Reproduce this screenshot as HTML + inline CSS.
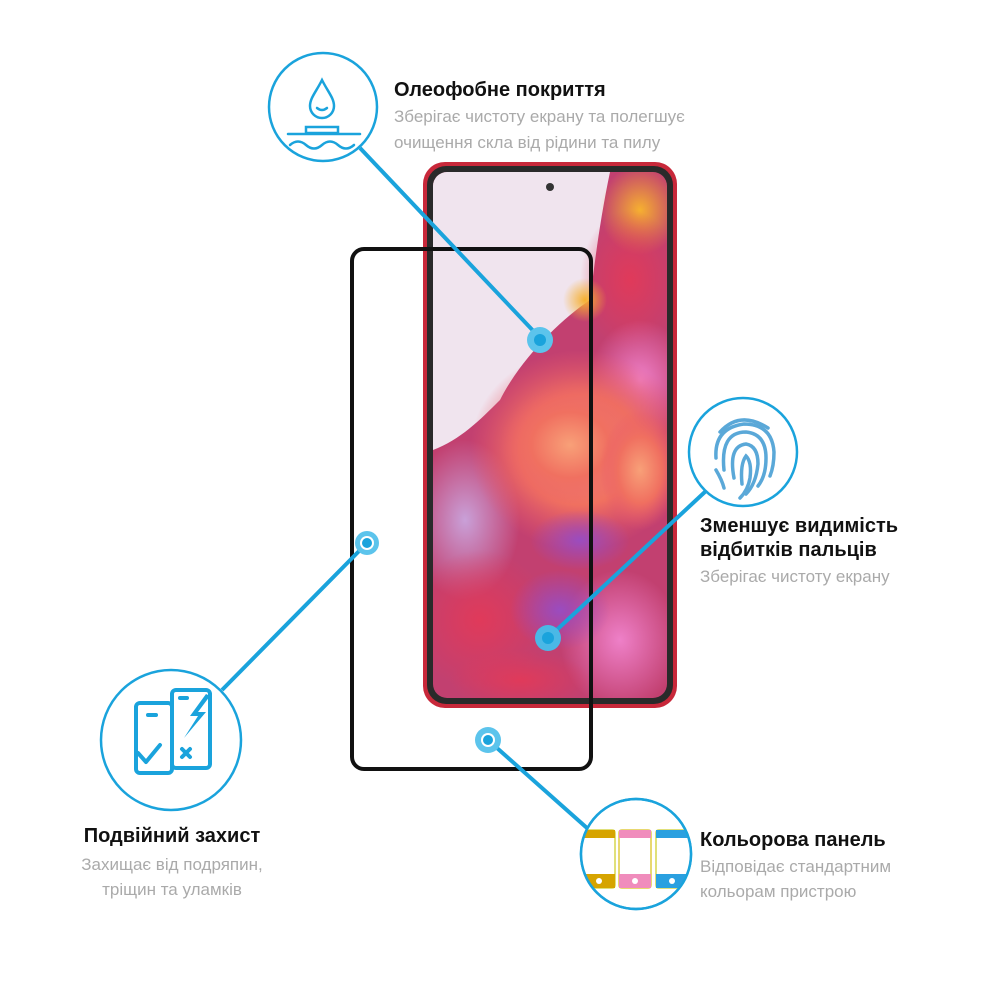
<!DOCTYPE html>
<html><head><meta charset="utf-8"><style>
html,body{margin:0;padding:0;background:#fff;width:1000px;height:1000px;overflow:hidden}
svg{display:block}
.t{font-family:"Liberation Sans",sans-serif;font-weight:bold;font-size:20px;fill:#111}
.s{font-family:"Liberation Sans",sans-serif;font-size:17px;fill:#aaa}
</style></head><body>
<svg width="1000" height="1000" viewBox="0 0 1000 1000" xmlns="http://www.w3.org/2000/svg">
<defs>
<radialGradient id="f1" cx="0.5" cy="0.5" r="0.5"><stop offset="0" stop-color="#f8a078"/><stop offset="0.55" stop-color="#f07060"/><stop offset="1" stop-color="#e85a6a" stop-opacity="0"/></radialGradient>
<radialGradient id="f2" cx="0.5" cy="0.5" r="0.5"><stop offset="0" stop-color="#9a4cc0"/><stop offset="1" stop-color="#9a4cc0" stop-opacity="0"/></radialGradient>
<radialGradient id="f3" cx="0.5" cy="0.5" r="0.5"><stop offset="0" stop-color="#e03a5a"/><stop offset="1" stop-color="#e03a5a" stop-opacity="0"/></radialGradient>
<radialGradient id="f4" cx="0.5" cy="0.5" r="0.5"><stop offset="0" stop-color="#f6b030"/><stop offset="1" stop-color="#f6b030" stop-opacity="0"/></radialGradient>
<radialGradient id="f5" cx="0.5" cy="0.5" r="0.5"><stop offset="0" stop-color="#ee80c8"/><stop offset="1" stop-color="#ee80c8" stop-opacity="0"/></radialGradient>
<radialGradient id="f6" cx="0.5" cy="0.5" r="0.5"><stop offset="0" stop-color="#c9a0d8"/><stop offset="1" stop-color="#c9a0d8" stop-opacity="0"/></radialGradient>
<clipPath id="scr"><rect x="433" y="172" width="234" height="526" rx="14"/></clipPath>
<clipPath id="cc"><circle cx="636" cy="854" r="54"/></clipPath>
</defs>

<!-- phone -->
<rect x="423" y="162" width="254" height="546" rx="22" fill="#c8283a"/>
<rect x="427" y="166" width="246" height="538" rx="19" fill="#2a2a2a"/>
<g clip-path="url(#scr)">
<rect x="433" y="172" width="234" height="526" fill="#c24070"/>
<path d="M433 172 H610 C600 220 595 260 590 300 C560 320 520 360 500 400 C480 420 460 440 433 450 Z" fill="#f0e4ee"/>
<ellipse cx="640" cy="210" rx="40" ry="45" fill="url(#f4)"/>
<ellipse cx="630" cy="280" rx="50" ry="70" fill="url(#f3)"/>
<ellipse cx="585" cy="300" rx="22" ry="22" fill="url(#f4)"/>
<ellipse cx="640" cy="380" rx="50" ry="60" fill="url(#f5)"/>
<ellipse cx="465" cy="520" rx="55" ry="80" fill="url(#f6)"/>
<ellipse cx="580" cy="450" rx="110" ry="100" fill="url(#f1)"/>
<ellipse cx="570" cy="445" rx="70" ry="60" fill="url(#f1)"/>
<ellipse cx="640" cy="470" rx="40" ry="60" fill="url(#f1)"/>
<ellipse cx="580" cy="540" rx="50" ry="30" fill="url(#f2)"/>
<ellipse cx="480" cy="620" rx="70" ry="70" fill="url(#f3)"/>
<ellipse cx="620" cy="640" rx="60" ry="70" fill="url(#f5)"/>
<ellipse cx="560" cy="610" rx="50" ry="40" fill="url(#f2)"/>
<ellipse cx="520" cy="680" rx="70" ry="30" fill="url(#f3)"/>
</g>
<circle cx="550" cy="187" r="4" fill="#333"/>

<!-- glass outline -->
<rect x="352" y="249" width="239" height="520" rx="12" fill="none" stroke="#111" stroke-width="4"/>

<!-- connectors -->
<g stroke="#1aa3dc" stroke-width="4" fill="none">
<line x1="360" y1="148" x2="540" y2="338"/>
<line x1="367" y1="543" x2="222" y2="690"/>
<line x1="548" y1="638" x2="707" y2="490"/>
<line x1="488" y1="740" x2="596" y2="836"/>
</g>
<g fill="#1aa3dc">
<circle cx="540" cy="340" r="13" fill="#5cc4ec"/><circle cx="540" cy="340" r="6"/>
<circle cx="367" cy="543" r="12" fill="#5cc4ec"/><circle cx="367" cy="543" r="7" fill="#fff"/><circle cx="367" cy="543" r="5"/>
<circle cx="548" cy="638" r="13" fill="#4ab8e6"/><circle cx="548" cy="638" r="6"/>
<circle cx="488" cy="740" r="13" fill="#5cc4ec"/><circle cx="488" cy="740" r="7" fill="#fff"/><circle cx="488" cy="740" r="5"/>
</g>

<!-- icon circles -->
<g fill="#fff" stroke="#1aa3dc" stroke-width="2.5">
<circle cx="323" cy="107" r="54"/>
<circle cx="743" cy="452" r="54"/>
<circle cx="171" cy="740" r="70"/>
<circle cx="636" cy="854" r="55"/>
</g>

<!-- water icon -->
<g stroke="#1aa3dc" stroke-width="2.5" fill="none" stroke-linecap="round">
<path d="M322 80 C316 92 310 98 310 106 a12 12 0 0 0 24 0 C334 98 328 92 322 80Z"/>
<path d="M317 108 q5 4 10 0"/>
<path d="M306 133 h32 v-6 h-32z"/>
<path d="M288 134 h72"/>
<path d="M290 145 q8 -7 16 0 t16 0 t16 0 t16 0"/>
</g>

<!-- fingerprint -->
<g stroke="#5aa8d8" stroke-width="3.5" fill="none" stroke-linecap="round">
<path d="M720 432 q20 -22 48 -4"/>
<path d="M716 458 q-2 -30 28 -34 q28 0 30 28 q0 14 -4 24"/>
<path d="M724 470 q-4 -38 22 -38 q20 2 20 26 q0 18 -8 28"/>
<path d="M734 478 q-6 -32 12 -34 q12 2 12 20 q-2 20 -12 30"/>
<path d="M742 484 q-2 -20 4 -28 q6 6 4 22 q-2 12 -10 20"/>
<path d="M716 470 q6 10 8 18"/>
</g>

<!-- double protection icon -->
<g stroke="#1aa3dc" stroke-width="4" fill="none" stroke-linejoin="round" stroke-linecap="round">
<rect x="136" y="703" width="36" height="70" rx="4"/>
<rect x="172" y="690" width="38" height="78" rx="4"/>
<path d="M148 715 h8"/><path d="M180 698 h7"/>
<path d="M138 753 l8 9 l14 -17"/>
<path d="M182 749 l8 8 m0 -8 l-8 8"/>
</g>
<path d="M206 694 l-16 22 h8 l-14 22 l22 -26 h-8 l12 -16z" fill="#1aa3dc"/>

<!-- color panels -->
<g clip-path="url(#cc)">
<g stroke-width="2">
<rect x="579" y="830" width="36" height="58" rx="3" fill="#fff" stroke="#e0e07a"/>
<rect x="579" y="830" width="36" height="8" fill="#d6a400"/><rect x="579" y="874" width="36" height="14" fill="#d6a400"/>
<rect x="619" y="830" width="32" height="58" rx="3" fill="#fff" stroke="#e8d870"/>
<rect x="619" y="830" width="32" height="8" fill="#f08cbc"/><rect x="619" y="874" width="32" height="14" fill="#f08cbc"/>
<rect x="656" y="830" width="36" height="58" rx="3" fill="#fff" stroke="#e0e07a"/>
<rect x="656" y="830" width="36" height="8" fill="#2aa0e0"/><rect x="656" y="874" width="36" height="14" fill="#2aa0e0"/>
</g>
<g fill="#fff"><circle cx="599" cy="881" r="3"/><circle cx="635" cy="881" r="3"/><circle cx="672" cy="881" r="3"/></g>
</g>
<circle cx="636" cy="854" r="55" fill="none" stroke="#1aa3dc" stroke-width="2.5"/>

<!-- texts -->
<text class="t" x="394" y="96">Олеофобне покриття</text>
<text class="s" x="394" y="122">Зберігає чистоту екрану та полегшує</text>
<text class="s" x="394" y="148">очищення скла від рідини та пилу</text>

<text class="t" x="700" y="532">Зменшує видимість</text>
<text class="t" x="700" y="556">відбитків пальців</text>
<text class="s" x="700" y="582">Зберігає чистоту екрану</text>

<text class="t" x="172" y="842" text-anchor="middle">Подвійний захист</text>
<text class="s" x="172" y="870" text-anchor="middle">Захищає від подряпин,</text>
<text class="s" x="172" y="895" text-anchor="middle">тріщин та уламків</text>

<text class="t" x="700" y="846">Кольорова панель</text>
<text class="s" x="700" y="872">Відповідає стандартним</text>
<text class="s" x="700" y="897">кольорам пристрою</text>
</svg>
</body></html>
